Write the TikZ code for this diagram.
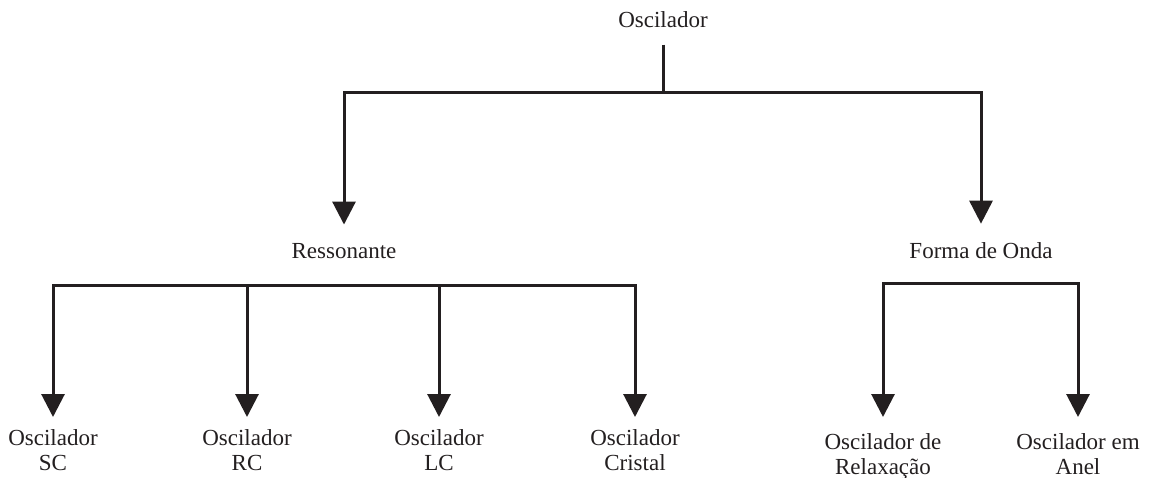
\documentclass[tikz,border=0pt]{standalone}
\usepackage{fontspec}
\setmainfont{Liberation Serif}
\usetikzlibrary{arrows.meta}
\definecolor{ink}{HTML}{231F20}

\begin{document}
\begin{tikzpicture}[x=0.5pt,y=-0.5pt,
        every node/.style={font=\fontsize{11.5}{12.5}\selectfont,text=ink,inner sep=0pt,align=center},
        bar/.style={draw=ink,line width=1.5pt},
        arr/.style={bar,-{Triangle[length=11.5pt,width=11.5pt]}}]
        \useasboundingbox (0,0) rectangle (1151,477);
        % top level
        \node[anchor=base] (osc) at (663,27) {Oscilador};
        \node[anchor=base] (res) at (344,258) {Ressonante};
        \node[anchor=base] (onda) at (981,258) {Forma de Onda};
        \coordinate (j0) at (663,92);
        \draw[bar,shorten <=8.5pt] (osc) -- (j0);
        \draw[arr,shorten >=9pt] (j0) -| (res);
        \draw[arr,shorten >=9pt] (j0) -| (onda);
        % ressonante
        \node[anchor=north] (sc) at (53,429) {Oscilador\\SC};
        \node[anchor=north] (rc) at (247,429) {Oscilador\\RC};
        \node[anchor=north] (lc) at (439,429) {Oscilador\\LC};
        \node[anchor=north] (cris) at (635,429) {Oscilador\\Cristal};
        \coordinate (j1) at (344,285);
        \draw[arr,shorten >=6pt] (j1) -| (sc);
        \draw[arr,shorten >=6pt] (j1) -| (rc);
        \draw[arr,shorten >=6pt] (j1) -| (lc);
        \draw[arr,shorten >=6pt] (j1) -| (cris);
        % forma de onda
        \node[anchor=north] (relax) at (883,433) {Oscilador de\\Relaxação};
        \node[anchor=north] (anel) at (1078,433) {Oscilador em\\Anel};
        \coordinate (j2) at (981,283);
        \draw[arr,shorten >=8pt] (j2) -| (relax);
        \draw[arr,shorten >=8pt] (j2) -| (anel);
\end{tikzpicture}
\end{document}
